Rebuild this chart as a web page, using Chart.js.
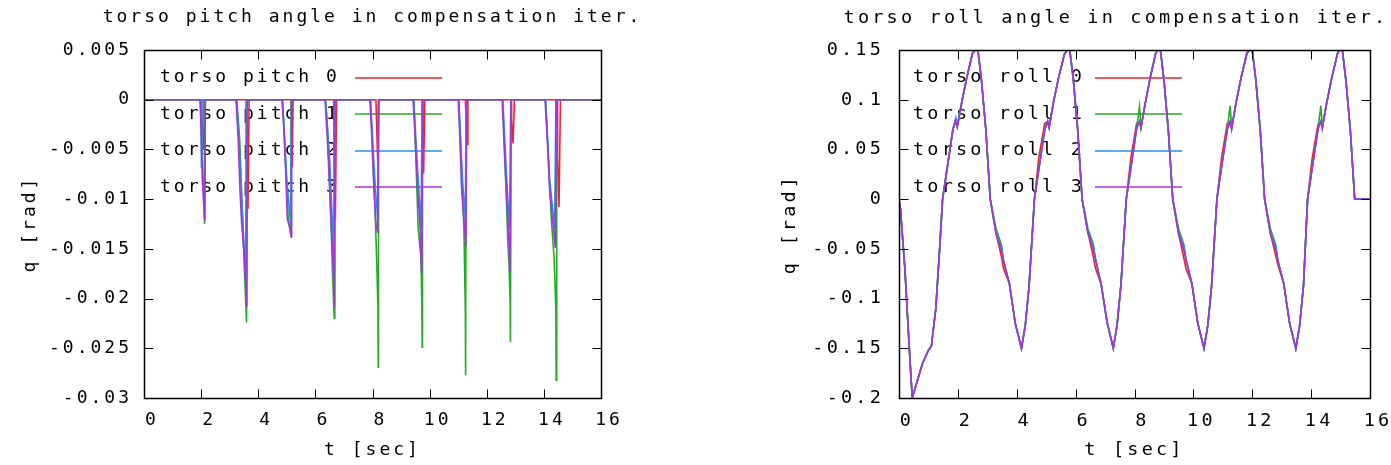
<!DOCTYPE html>
<html><head><meta charset="utf-8">
<script src="https://cdn.jsdelivr.net/npm/chart.js@4.4.0/dist/chart.umd.min.js"></script>
<style>
html,body{margin:0;padding:0;background:#fff;width:1391px;height:465px;overflow:hidden;position:relative}
.box{position:absolute;top:0;height:465px}
#c1box{left:0;width:745px}
#c2box{left:760px;width:712px}
</style></head><body>
<div class="box" id="c1box"><canvas id="c1" width="745" height="465"></canvas></div>
<div class="box" id="c2box"><canvas id="c2" width="712" height="465"></canvas></div>
<script>
// ---------------- data ----------------
const pitchLabels = ['torso pitch 0', 'torso pitch 1', 'torso pitch 2', 'torso pitch 3'];
const rollLabels  = ['torso roll 0', 'torso roll 1', 'torso roll 2', 'torso roll 3'];
const xTicks = [0, 2, 4, 6, 8, 10, 12, 14, 16];
const pitchTicks = [0.005, 0, -0.005, -0.01, -0.015, -0.02, -0.025, -0.03];
const rollTicks = [0.15, 0.1, 0.05, 0, -0.05, -0.1, -0.15, -0.2];

// torso pitch series: [t, q] pairs
const pitch0 = [[0,0],
 [2.0,0],[2.08,-0.005],[2.1,0],
 [3.58,0],[3.6,-0.006],[3.64,-0.011],[3.68,0],
 [5.15,0],[5.16,-0.004],[5.19,-0.0068],[5.22,0],
 [6.64,0],[6.66,-0.006],[6.7,-0.012],[6.74,0],
 [8.12,0],[8.18,-0.006],[8.22,0],
 [9.74,0],[9.76,-0.004],[9.79,-0.0074],[9.83,0],
 [11.25,0],[11.29,-0.003],[11.32,-0.0045],[11.34,0],
 [12.85,0],[12.87,-0.002],[12.92,-0.0044],[12.97,0],
 [14.46,0],[14.48,-0.006],[14.53,-0.0108],[14.58,0],
 [16,0]];
const pitch1 = [[0,0],
 [1.98,0],[2.05,-0.006],[2.12,-0.0125],[2.14,0],
 [3.25,0],[3.35,-0.004],[3.45,-0.012],[3.52,-0.0175],[3.59,-0.0224],[3.61,0],
 [4.85,0],[4.97,-0.007],[5.05,-0.012],[5.14,-0.0135],[5.16,0],
 [6.36,0],[6.45,-0.004],[6.55,-0.0125],[6.6,-0.0175],[6.66,-0.022],[6.68,0],
 [7.93,0],[8.02,-0.006],[8.1,-0.012],[8.15,-0.0165],[8.19,-0.0209],[8.2,-0.0269],[8.21,0],
 [9.45,0],[9.52,-0.006],[9.6,-0.013],[9.66,-0.0148],[9.7,-0.016],[9.73,-0.021],[9.74,-0.0249],[9.75,0],
 [11.02,0],[11.12,-0.007],[11.2,-0.013],[11.25,-0.0212],[11.26,-0.0277],[11.28,0],
 [12.56,0],[12.65,-0.007],[12.74,-0.0145],[12.78,-0.0165],[12.82,-0.0207],[12.83,-0.0244],[12.85,0],
 [14.06,0],[14.16,-0.006],[14.26,-0.012],[14.36,-0.016],[14.42,-0.0212],[14.43,-0.0282],[14.45,0],
 [16,0]];
const pitch2 = [[0,0],
 [1.99,0],[2.01,-0.0068],[2.03,0],
 [3.24,0],[3.34,-0.005],[3.44,-0.011],[3.56,-0.0178],[3.58,0],
 [4.85,0],[5.0,-0.008],[5.13,-0.0125],[5.16,0],
 [6.35,0],[6.5,-0.006],[6.6,-0.0125],[6.64,-0.018],[6.66,0],
 [7.93,0],[8.08,-0.008],[8.18,-0.012],[8.21,0],
 [9.44,0],[9.6,-0.008],[9.7,-0.013],[9.74,0],
 [11.02,0],[11.15,-0.008],[11.25,-0.012],[11.28,0],
 [12.56,0],[12.7,-0.008],[12.8,-0.013],[12.84,0],
 [14.06,0],[14.2,-0.008],[14.38,-0.013],[14.42,0],
 [16,0]];
const pitch3 = [[0,0],
 [1.96,0],[2.0,-0.003],[2.04,-0.008],[2.1,-0.011],[2.13,-0.0122],[2.15,0],
 [3.22,0],[3.3,-0.004],[3.36,-0.009],[3.42,-0.0125],[3.52,-0.016],[3.6,-0.0208],[3.62,0],
 [4.83,0],[4.9,-0.003],[4.97,-0.008],[5.02,-0.012],[5.1,-0.0128],[5.15,-0.0138],[5.17,0],
 [6.34,0],[6.42,-0.004],[6.5,-0.009],[6.56,-0.013],[6.62,-0.016],[6.67,-0.0208],[6.69,0],
 [7.91,0],[7.98,-0.004],[8.05,-0.009],[8.12,-0.0125],[8.18,-0.0134],[8.22,0],
 [9.42,0],[9.5,-0.004],[9.58,-0.009],[9.66,-0.0125],[9.72,-0.0175],[9.76,0],
 [11.0,0],[11.06,-0.004],[11.12,-0.009],[11.2,-0.012],[11.27,-0.0148],[11.3,0],
 [12.54,0],[12.6,-0.004],[12.68,-0.009],[12.76,-0.013],[12.82,-0.0173],[12.85,0],
 [14.04,0],[14.12,-0.004],[14.2,-0.009],[14.3,-0.012],[14.4,-0.0149],[14.44,0],
 [16,0]];

// torso roll series: shared time base, one value list per series
const rollT = [
 0, 0.05, 0.2, 0.35, 0.45, 0.6, 0.8, 1.0, 1.1, 1.25, 1.38,
 1.48, 1.63, 1.83, 1.93, 1.98, 2.13, 2.3, 2.5, 2.6,
 2.68, 2.8, 2.95, 3.1, 3.3, 3.48, 3.55, 3.75, 3.95, 4.16,
 4.29, 4.42,
 4.6, 4.75, 4.95, 5.05, 5.1, 5.25, 5.42, 5.62, 5.72,
 5.8, 5.92, 6.07, 6.22, 6.42, 6.6, 6.67, 6.87, 7.07, 7.28,
 7.41, 7.54,
 7.72, 7.87, 8.07, 8.17, 8.22, 8.37, 8.54, 8.72, 8.8,
 8.88, 9.0, 9.15, 9.3, 9.5, 9.68, 9.75, 9.95, 10.15, 10.36,
 10.49, 10.62,
 10.8, 10.95, 11.15, 11.25, 11.3, 11.45, 11.62, 11.82, 11.92,
 12.0, 12.12, 12.27, 12.42, 12.62, 12.8, 12.87, 13.07, 13.27, 13.48,
 13.61, 13.74,
 13.88, 14.03, 14.23, 14.33, 14.38, 14.53, 14.7, 14.9, 14.98,
 15.06, 15.18, 15.33, 15.48, 16];
const roll0 = [
 0, -0.01, -0.07, -0.15, -0.2, -0.185, -0.165, -0.152, -0.148, -0.11, -0.05,
 0, 0.03, 0.07, 0.079, 0.073, 0.097, 0.122, 0.147, 0.15,
 0.15, 0.12, 0.07, 0, -0.035, -0.058, -0.07, -0.085, -0.125, -0.15,
 -0.127, -0.087,
 0, 0.042, 0.076, 0.078, 0.072, 0.098, 0.122, 0.146, 0.15,
 0.15, 0.121, 0.07, 0, -0.034, -0.058, -0.069, -0.086, -0.124, -0.15,
 -0.126, -0.086,
 0, 0.04, 0.076, 0.078, 0.072, 0.097, 0.123, 0.147, 0.15,
 0.15, 0.12, 0.069, 0, -0.035, -0.06, -0.07, -0.085, -0.125, -0.15,
 -0.127, -0.087,
 0, 0.04, 0.076, 0.078, 0.071, 0.097, 0.122, 0.147, 0.15,
 0.15, 0.12, 0.07, 0, -0.035, -0.057, -0.066, -0.085, -0.125, -0.15,
 -0.127, -0.087,
 0, 0.04, 0.075, 0.078, 0.072, 0.097, 0.122, 0.147, 0.15,
 0.15, 0.12, 0.07, 0, 0];
const roll1 = [
 0, -0.01, -0.07, -0.15, -0.2, -0.185, -0.165, -0.152, -0.148, -0.11, -0.05,
 0, 0.03, 0.07, 0.079, 0.073, 0.097, 0.122, 0.147, 0.15,
 0.15, 0.12, 0.07, 0, -0.03, -0.046, -0.062, -0.085, -0.125, -0.15,
 -0.127, -0.087,
 0, 0.03, 0.07, 0.078, 0.072, 0.098, 0.122, 0.146, 0.15,
 0.15, 0.121, 0.07, 0, -0.03, -0.045, -0.06, -0.086, -0.124, -0.15,
 -0.126, -0.086,
 0, 0.03, 0.071, 0.093, 0.072, 0.097, 0.123, 0.147, 0.15,
 0.15, 0.12, 0.069, 0, -0.03, -0.046, -0.061, -0.085, -0.125, -0.15,
 -0.127, -0.087,
 0, 0.031, 0.07, 0.094, 0.071, 0.097, 0.122, 0.147, 0.15,
 0.15, 0.12, 0.07, 0, -0.03, -0.046, -0.062, -0.085, -0.125, -0.15,
 -0.127, -0.087,
 0, 0.03, 0.07, 0.094, 0.072, 0.097, 0.122, 0.147, 0.15,
 0.15, 0.12, 0.07, 0, 0];
const roll2 = [
 0, -0.01, -0.07, -0.15, -0.2, -0.185, -0.165, -0.152, -0.148, -0.11, -0.05,
 0, 0.03, 0.07, 0.082, 0.073, 0.097, 0.122, 0.147, 0.15,
 0.15, 0.12, 0.07, 0, -0.035, -0.048, -0.062, -0.085, -0.125, -0.15,
 -0.127, -0.087,
 0, 0.03, 0.07, 0.078, 0.072, 0.098, 0.122, 0.146, 0.15,
 0.15, 0.121, 0.07, 0, -0.034, -0.047, -0.06, -0.086, -0.124, -0.15,
 -0.126, -0.086,
 0, 0.03, 0.071, 0.078, 0.072, 0.097, 0.123, 0.147, 0.15,
 0.15, 0.12, 0.069, 0, -0.035, -0.048, -0.061, -0.085, -0.125, -0.15,
 -0.127, -0.087,
 0, 0.031, 0.07, 0.078, 0.071, 0.097, 0.122, 0.147, 0.15,
 0.15, 0.12, 0.07, 0, -0.035, -0.048, -0.062, -0.085, -0.125, -0.15,
 -0.127, -0.087,
 0, 0.03, 0.07, 0.078, 0.072, 0.097, 0.122, 0.147, 0.15,
 0.15, 0.12, 0.07, 0, 0];
const roll3 = [
 0, -0.01, -0.07, -0.15, -0.2, -0.185, -0.165, -0.152, -0.148, -0.11, -0.05,
 0, 0.03, 0.07, 0.079, 0.073, 0.097, 0.122, 0.147, 0.15,
 0.15, 0.12, 0.07, 0, -0.035, -0.052, -0.062, -0.085, -0.125, -0.15,
 -0.127, -0.087,
 0, 0.03, 0.07, 0.078, 0.072, 0.098, 0.122, 0.146, 0.15,
 0.15, 0.121, 0.07, 0, -0.034, -0.051, -0.06, -0.086, -0.124, -0.15,
 -0.126, -0.086,
 0, 0.03, 0.071, 0.078, 0.072, 0.097, 0.123, 0.147, 0.15,
 0.15, 0.12, 0.069, 0, -0.035, -0.052, -0.061, -0.085, -0.125, -0.15,
 -0.127, -0.087,
 0, 0.031, 0.07, 0.078, 0.071, 0.097, 0.122, 0.147, 0.15,
 0.15, 0.12, 0.07, 0, -0.035, -0.052, -0.062, -0.085, -0.125, -0.15,
 -0.127, -0.087,
 0, 0.03, 0.07, 0.078, 0.072, 0.097, 0.122, 0.147, 0.15,
 0.15, 0.12, 0.07, 0, 0];

// ---------------- style ----------------
const COLORS = ['#e8262b', '#22ad22', '#2a8ce8', '#a534dc'];
const FONT_FAMILY = "'DejaVu Sans Mono', monospace";
const TICK_LEN = 9;
const LINE_W = 1.6;

Chart.defaults.font.family = FONT_FAMILY;
Chart.defaults.color = '#000';

const gnuFrame = {
  id: 'gnuFrame',
  beforeUpdate(chart, args, o) { chart.ctx.letterSpacing = o.ls; },
  beforeDraw(chart, args, o) {
    const c = chart.ctx;
    c.save(); c.fillStyle = '#fff'; c.fillRect(0, 0, chart.width, chart.height); c.restore();
    c.letterSpacing = o.ls;
  },
  beforeDatasetsDraw(chart, args, o) {
    const ctx = chart.ctx, a = chart.chartArea;
    ctx.save();
    ctx.letterSpacing = o.ls;
    ctx.font = o.size + 'px ' + FONT_FAMILY;
    ctx.fillStyle = '#000';
    ctx.textBaseline = 'middle';
    ctx.textAlign = 'left';
    chart.data.datasets.forEach((ds, i) => {
      const y = a.top + o.rowTop + i * o.rowStep;
      ctx.fillText(ds.label, a.left + o.textX, y);
      ctx.strokeStyle = ds.borderColor;
      ctx.lineWidth = LINE_W;
      ctx.beginPath();
      ctx.moveTo(a.left + o.lineX0, Math.round(y));
      ctx.lineTo(a.left + o.lineX1, Math.round(y));
      ctx.stroke();
    });
    ctx.restore();
  },
  afterDatasetsDraw(chart) {
    const ctx = chart.ctx, a = chart.chartArea;
    const xs = chart.scales.x, ys = chart.scales.y;
    ctx.save();
    ctx.strokeStyle = '#000';
    ctx.lineWidth = 1;
    const L = Math.round(a.left) + 0.5, R = Math.round(a.right) + 0.5;
    const T = Math.round(a.top) + 0.5, B = Math.round(a.bottom) + 0.5;
    ctx.beginPath();
    xs.ticks.forEach(t => {
      const px = Math.round(xs.getPixelForValue(t.value)) + 0.5;
      ctx.moveTo(px, B); ctx.lineTo(px, B - TICK_LEN);
      ctx.moveTo(px, T); ctx.lineTo(px, T + TICK_LEN);
    });
    ys.ticks.forEach(t => {
      const py = Math.round(ys.getPixelForValue(t.value)) + 0.5;
      ctx.moveTo(L, py); ctx.lineTo(L + TICK_LEN, py);
      ctx.moveTo(R, py); ctx.lineTo(R - TICK_LEN, py);
    });
    ctx.stroke();
    ctx.lineWidth = 1.5;
    ctx.strokeRect(L, T, R - L, B - T);
    ctx.restore();
  }
};

function fmt(v) {
  const r = Math.round(v * 1000) / 1000;
  return String(r === 0 ? 0 : r);
}

function makeChart(id, cfg) {
  const fs = cfg.fontSize;
  const lh = fs * 1.2;
  const datasets = cfg.series.map((pts, i) => ({
    label: cfg.labels[i],
    data: pts,
    borderColor: COLORS[i],
    backgroundColor: COLORS[i],
    borderWidth: LINE_W,
    pointRadius: 0,
    tension: 0,
    fill: false,
    order: 4 - i
  }));
  return new Chart(document.getElementById(id), {
    type: 'line',
    data: { datasets },
    plugins: [gnuFrame],
    options: {
      responsive: false,
      devicePixelRatio: 1,
      animation: false,
      events: [],
      layout: { padding: 0 },
      plugins: {
        legend: { display: false },
        tooltip: { enabled: false },
        title: {
          display: true, text: cfg.title, fullSize: true, color: '#000',
          font: { size: fs, weight: 'normal', lineHeight: 1.2 },
          padding: { top: 7, bottom: 50 - 7 - lh }
        },
        gnuFrame: Object.assign({ ls: cfg.ls, size: fs }, cfg.legend)
      },
      scales: {
        x: {
          type: 'linear', min: xTicks[0], max: xTicks[xTicks.length - 1],
          afterBuildTicks: s => { s.ticks = xTicks.map(v => ({ value: v })); },
          ticks: { padding: 12, labelOffset: cfg.xLabelOffset, autoSkip: false, maxRotation: 0, color: '#000',
                   font: { size: fs }, callback: v => String(v) },
          grid: { display: false, drawTicks: false },
          border: { display: false },
          title: { display: true, text: 't [sec]', color: '#000', font: { size: fs, lineHeight: 1.2 },
                   padding: { top: 0, bottom: 465 - 450 - lh / 2 } },
          afterFit: s => { s.height = 67; }
        },
        y: {
          type: 'linear', position: 'left', min: cfg.yTicks[cfg.yTicks.length - 1], max: cfg.yTicks[0],
          afterBuildTicks: s => { s.ticks = cfg.yTicks.slice().reverse().map(v => ({ value: v })); },
          ticks: { padding: cfg.yLabelPad, autoSkip: false, color: '#000', font: { size: fs }, callback: v => fmt(v) },
          grid: { display: false, drawTicks: false },
          border: { display: false },
          title: { display: true, text: 'q [rad]', color: '#000', font: { size: fs, lineHeight: 1.2 },
                   padding: { top: 30 - lh / 2, bottom: 0 } },
          afterFit: s => { s.width = cfg.yWidth; }
        },
        // empty right-hand margin so the title is centred over the plot box
        yMargin: {
          type: 'linear', position: 'right', display: true,
          ticks: { display: false },
          grid: { display: false, drawTicks: false },
          border: { display: false },
          afterFit: s => { s.width = cfg.rightWidth; }
        }
      }
    }
  });
}

const toPts = arr => arr.map(p => ({ x: p[0], y: p[1] }));
const rollPts = vals => rollT.map((t, i) => ({ x: t, y: vals[i] }));

makeChart('c1', {
  title: 'torso pitch angle in compensation iter.',
  labels: pitchLabels,
  series: [toPts(pitch0), toPts(pitch1), toPts(pitch2), toPts(pitch3)],
  yTicks: pitchTicks,
  yWidth: 144,
  rightWidth: 144,
  fontSize: 18, ls: '3px', xLabelOffset: 8, yLabelPad: 12,
  legend: { rowTop: 27.5, rowStep: 36.5, textX: 16, lineX0: 211, lineX1: 298 }
});

makeChart('c2', {
  title: 'torso roll angle in compensation iter.',
  labels: rollLabels,
  series: [rollPts(roll0), rollPts(roll1), rollPts(roll2), rollPts(roll3)],
  yTicks: rollTicks,
  yWidth: 139,
  rightWidth: 102,
  fontSize: 18.5, ls: '3.2px', xLabelOffset: 8, yLabelPad: 15,
  legend: { rowTop: 27.5, rowStep: 36.5, textX: 14, lineX0: 196, lineX1: 283 }
});
</script></body></html>
